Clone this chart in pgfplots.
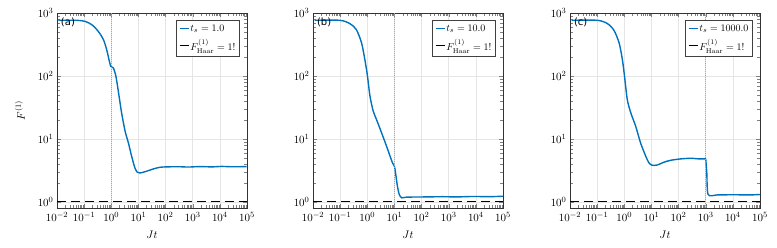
\documentclass[border=0pt]{standalone}
\usepackage{pgfplots}
\pgfplotsset{compat=1.18}
\usepackage{fontspec}
\setsansfont{DejaVu Sans}
\definecolor{jblue}{RGB}{0,114,189}
\pgfplotsset{
  every axis/.append style={
    width=190pt, height=195pt, scale only axis,
    xmin=1e-2, xmax=1e5, ymin=0.8, ymax=1000,
    xtick={1e-2,1e-1,1,1e1,1e2,1e3,1e4,1e5},
    ytick={1,10,100,1000},
    minor xtick={}, minor ytick={},
    tick align=inside, tick pos=both,
    grid=major, major grid style={gray!20, line width=0.5pt},
    axis line style={black!80, line width=0.8pt},
    major tick length=4pt,
    tick label style={font=\fontsize{11}{13}\selectfont},
    xticklabel style={yshift=-1pt},
    xlabel={$Jt$}, xlabel style={yshift=-2pt, font=\fontsize{11}{13}\selectfont},
    legend cell align=left,
    legend style={at={(0.965,0.965)}, anchor=north east, draw=black!75, line width=0.9pt,
      font=\fontsize{10}{12}\selectfont, inner sep=2.5pt, row sep=3pt,
      /tikz/every odd column/.append style={column sep=-1pt}},
    legend image code/.code={\draw[#1, line width=1.4pt] (0cm,0cm) -- (0.32cm,0cm);},
  },
}
\tikzset{
  myhline/.style={black, line width=1.1pt, dash pattern=on 9pt off 5pt},
  myvline/.style={gray!70, line width=0.9pt, dash pattern=on 1pt off 1pt},
  mycurve/.style={jblue, line width=1.4pt, smooth, tension=0.45},
}
\begin{document}
\begin{tikzpicture}
\begin{loglogaxis}[name=a, ylabel={$F^{(1)}$}, ylabel style={yshift=6pt, font=\fontsize{11}{13}\selectfont}]
\addplot[mycurve] coordinates {
(0.0112,766) (0.0525,766) (0.107,738) (0.191,653) (0.331,512) (0.513,378)
(0.676,262) (0.851,171) (0.955,142) (1.08,138) (1.20,134) (1.48,99) (1.82,57) (2.40,25.9)
(3.24,13.2) (4.27,8.65) (5.62,5.31) (7.41,3.47) (9.12,2.96) (11.5,2.88)
(20,3.07) (35.5,3.34) (63,3.55) (110,3.60) (300,3.62) (700,3.58) (1862,3.64)
(5000,3.60) (12000,3.66) (30000,3.61) (97700,3.64)};
\addlegendentry{$t_s = 1.0$}
\addplot[myhline] coordinates {(0.01,1) (1e5,1)};
\addlegendentry{$F^{(1)}_{\mathrm{Haar}} = 1!$}
\addplot[myvline, forget plot] coordinates {(1,0.8) (1,1000)};
\node[anchor=north west, font=\sffamily, inner sep=0pt] at (rel axis cs:0.02,0.975) {(a)};
\end{loglogaxis}
\begin{loglogaxis}[name=b, at={(a.south east)}, xshift=66pt, anchor=south west]
\addplot[mycurve] coordinates {
(0.0115,766) (0.098,766) (0.229,678) (0.398,543) (0.617,334) (0.813,182)
(1.0,105) (1.26,47.5) (1.66,27.5) (2.19,20.3) (3.39,12.4) (5.13,7.66)
(6.92,5.31) (8.51,4.16) (10,3.68) (11.0,2.88) (12.9,1.77) (15.1,1.31)
(18.6,1.16) (28.2,1.19) (155,1.20) (600,1.21) (2000,1.20) (8000,1.22) (30000,1.21) (1e5,1.23)};
\addlegendentry{$t_s = 10.0$}
\addplot[myhline] coordinates {(0.01,1) (1e5,1)};
\addlegendentry{$F^{(1)}_{\mathrm{Haar}} = 1!$}
\addplot[myvline, forget plot] coordinates {(10,0.8) (10,1000)};
\node[anchor=north west, font=\sffamily, inner sep=0pt] at (rel axis cs:0.02,0.975) {(b)};
\end{loglogaxis}
\begin{loglogaxis}[name=c, at={(b.south east)}, xshift=67pt, anchor=south west]
\addplot[mycurve] coordinates {
(0.0115,766) (0.102,766) (0.240,678) (0.417,531) (0.646,334) (0.851,182)
(1.02,98.9) (1.29,42.1) (1.74,25.9) (2.63,15.9) (3.98,8.65) (6.17,5.31)
(8.13,4.16) (10.7,3.82) (16.6,3.86) (28.8,4.27) (51.3,4.58) (120,4.82)
(282,4.93) (562,4.82) (900,4.82) (1000,4.75) (1096,2.88) (1230,1.31) (2690,1.29) (10000,1.30) (40000,1.29) (1e5,1.31)};
\addlegendentry{$t_s = 1000.0$}
\addplot[myhline] coordinates {(0.01,1) (1e5,1)};
\addlegendentry{$F^{(1)}_{\mathrm{Haar}} = 1!$}
\addplot[myvline, forget plot] coordinates {(1000,0.8) (1000,1000)};
\node[anchor=north west, font=\sffamily, inner sep=0pt] at (rel axis cs:0.02,0.975) {(c)};
\end{loglogaxis}
\pgfresetboundingbox
\path[use as bounding box] ([shift={(-57pt,-39pt)}]a.south west) rectangle ++(777pt,247pt);
\end{tikzpicture}
\end{document}
